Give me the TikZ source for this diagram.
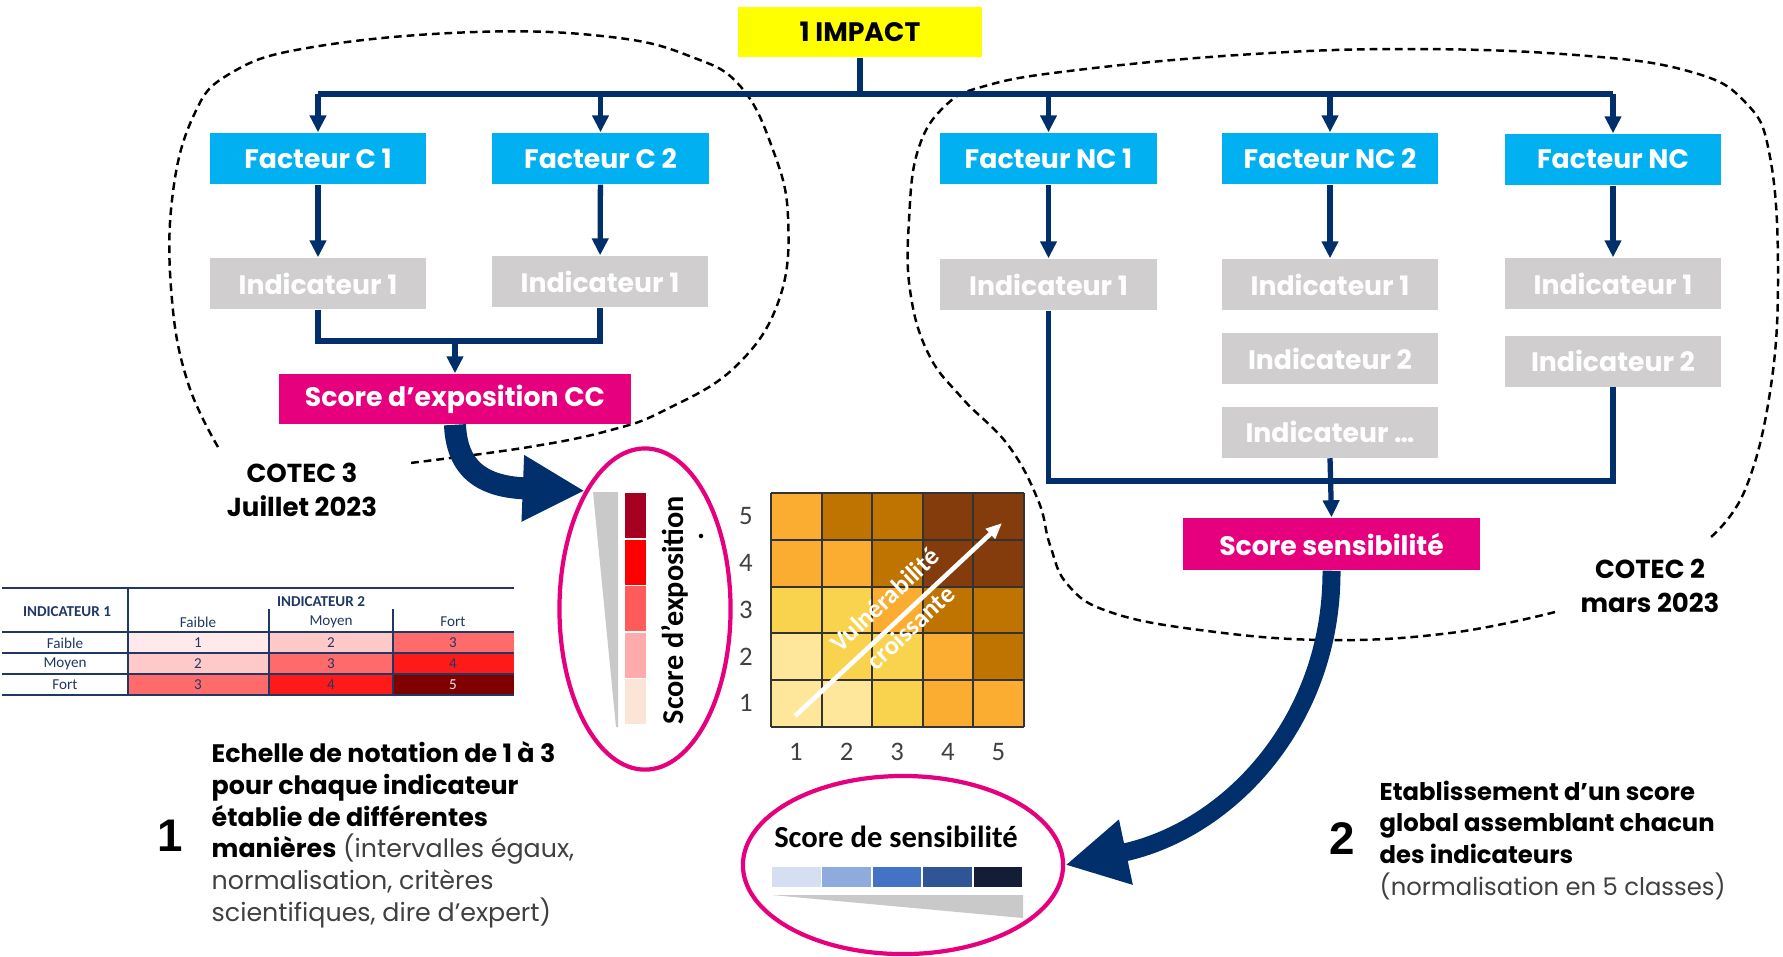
\documentclass[tikz,border=0pt]{standalone}
\usepackage{fontspec}
\setmainfont{Poppins}
\newfontfamily\calib{Carlito}
\newfontfamily\arialf{Liberation Sans}
\usetikzlibrary{arrows.meta,shapes.geometric}
\definecolor{cnavy}{HTML}{002F6C}
\definecolor{ccyan}{HTML}{00B0F0}
\definecolor{cgray}{HTML}{D0CECE}
\definecolor{wgray}{HTML}{C9C9C9}
\definecolor{cmag}{HTML}{E6007E}
\definecolor{cyel}{HTML}{FFFF00}
\definecolor{tnavy}{HTML}{1F3864}
\definecolor{tgray}{HTML}{404040}
\definecolor{mA}{HTML}{FEE79A}
\definecolor{mB}{HTML}{F9D34E}
\definecolor{mC}{HTML}{FBAD31}
\definecolor{mD}{HTML}{BF7300}
\definecolor{mE}{HTML}{843C0C}
\definecolor{rA}{HTML}{A50021}
\definecolor{rB}{HTML}{FF0000}
\definecolor{rC}{HTML}{FF5B5B}
\definecolor{rD}{HTML}{FFABAB}
\definecolor{rE}{HTML}{FBE5D6}
\definecolor{bA}{HTML}{D6DFF2}
\definecolor{bB}{HTML}{8FAADC}
\definecolor{bC}{HTML}{4472C4}
\definecolor{bD}{HTML}{2F5597}
\definecolor{bE}{HTML}{131D35}
\definecolor{pA}{HTML}{FFE9EA}
\definecolor{pB}{HTML}{FFC9C9}
\definecolor{pC}{HTML}{FF6B6B}
\definecolor{pD}{HTML}{FF1A1A}
\definecolor{pE}{HTML}{800000}
\tikzset{
  boxbase/.style={inner sep=0pt, minimum width=2.16cm, minimum height=0.51cm,
    font=\fontsize{7.6}{9}\selectfont\bfseries, text=white},
  facbox/.style={boxbase, fill=ccyan},
  indbox/.style={boxbase, fill=cgray},
  scorebox/.style={boxbase, fill=cmag},
  conn/.style={cnavy, line width=1.5pt},
  carr/.style={conn, -{Triangle[length=0.17cm,width=0.16cm]}},
  bigarr/.style={cnavy, -{Triangle[length=0.62cm,width=0.62cm]}},
  blob/.style={line width=0.7pt, dash pattern=on 2.2pt off 1.4pt},
  gridl/.style={line width=0.6pt, black!80},
  axlab/.style={font=\calib\fontsize{7.6}{9}\selectfont, text=tgray, inner sep=0pt},
  tline/.style={tnavy, line width=0.5pt},
  ttext/.style={font=\calib\fontsize{4.3}{5}\selectfont, text=tnavy, inner sep=0pt},
  tbold/.style={font=\calib\bfseries\fontsize{4.3}{5}\selectfont, text=tnavy, inner sep=0pt},
  cotec/.style={align=center, font=\bfseries\fontsize{7.4}{9.7}\selectfont, inner sep=0pt},
  bignum/.style={font=\arialf\bfseries\fontsize{13}{13}\selectfont, inner sep=0pt},
  bodytext/.style={anchor=north west, inner sep=0pt, align=left, font=\fontsize{6.9}{9}\selectfont},
  vtext/.style={text=white, rotate=43, inner sep=0pt, align=center, font=\calib\bfseries\fontsize{7.4}{10.8}\selectfont}
}
\begin{document}
\begin{tikzpicture}[x=0.01cm,y=-0.01cm]
\useasboundingbox (0,0) rectangle (1783,956);

% dashed groupings
\draw[blob] plot[smooth, tension=0.7] coordinates {(218,447) (188,383) (172,300) (172,200) (193,117) (231,73) (313,47) (475,32) (611,37) (692,57) (741,87) (773,150) (788,217) (779,300) (735,367) (665,410) (611,430) (529,447) (410,463)};
\draw[blob] plot[smooth, tension=0.7] coordinates {(1555,612) (1450,633) (1325,640) (1200,630) (1110,612) (1068,585) (1050,545) (1038,500) (1008,445) (962,398) (928,353) (910,290) (909,220) (918,150) (945,106) (985,86) (1069,71) (1238,55) (1407,49) (1576,55) (1688,71) (1745,102) (1770,157) (1778,275) (1770,392) (1745,490) (1711,537)};

% boxes
\node[boxbase, fill=cyel, text=black, minimum width=2.44cm, minimum height=0.50cm] (impact) at (860,32) {1 IMPACT};
\node[facbox] (fc1) at (318,158.5) {Facteur C 1};
\node[facbox] (fc2) at (600.5,158.5) {Facteur C 2};
\node[facbox] (fn1) at (1048.5,158.5) {Facteur NC 1};
\node[facbox] (fn2) at (1330,158.5) {Facteur NC 2};
\node[facbox] (fn3) at (1613,159.5) {Facteur NC};
\node[indbox] (ic1) at (318,283.5) {Indicateur 1};
\node[indbox] (ic2) at (600,281.5) {Indicateur 1};
\node[indbox] (in1) at (1048.5,284.5) {Indicateur 1};
\node[indbox] (in21) at (1330,284.5) {Indicateur 1};
\node[indbox] (in22) at (1330,358.5) {Indicateur 2};
\node[indbox] (in23) at (1330,432) {Indicateur \dots};
\node[indbox] (in31) at (1613,283.5) {Indicateur 1};
\node[indbox] (in32) at (1613,361) {Indicateur 2};
\node[scorebox, minimum width=3.52cm, minimum height=0.50cm] (sexp) at (455,399) {Score d’exposition CC};
\node[scorebox, minimum width=2.97cm, minimum height=0.52cm] (ssens) at (1331.5,544) {Score sensibilité};

% tree connectors
\coordinate (bus) at (860,94);
\draw[conn] (impact.south) -- (bus);
\draw[conn] (fc1.north |- bus) -- (fn3.north |- bus);
\foreach \f in {fc1,fc2,fn1,fn2,fn3} \draw[carr] (\f.north |- bus) -- (\f.north);
\draw[carr] (fc1) -- (ic1);
\draw[carr] (fc2) -- (ic2);
\draw[carr] (fn1) -- (in1);
\draw[carr] (fn2) -- (in21);
\draw[carr] (fn3) -- (in31);
\coordinate (cj) at (455,341);
\draw[conn] (ic1.south) -- (ic1.south |- cj) -- (ic2.south |- cj) -- (ic2.south);
\draw[carr] (cj) -- (sexp.north);
\coordinate (nj) at (1330,481);
\draw[conn] (in1.south) -- (in1.south |- nj) -- (in32.south |- nj) -- (in32.south);
\draw[carr] (in23.south) -- (ssens.north);

% exposure ellipse
\node[ellipse, draw=cmag, line width=1.2pt, minimum width=1.71cm, minimum height=3.21cm, inner sep=0pt] (ell1) at (645,609) {};
\fill[wgray] (593,492) -- (618,492) -- (618,727) -- (616,727) -- cycle;
\foreach \c [count=\i from 0] in {rA,rB,rC,rD,rE}
  \fill[\c] (625,{493+46.6*\i}) rectangle ++(21,45);
\node[rotate=90, font=\calib\bfseries\fontsize{8.6}{10}\selectfont, inner sep=0pt] (sexlab) at (675,610) {Score d’exposition};
\node[rotate=90, font=\calib\bfseries\fontsize{8.6}{10}\selectfont, inner sep=0pt] (sexdot) at (701,536) {.};

% big arrows
\draw[bigarr, line width=0.22cm] (sexp.south) .. controls (457,475) and (490,487) .. (ell1.117);

% matrix
\foreach \c [count=\i from 0] in {mC,mD,mD,mE,mE} \fill[\c] ({771+50.6*\i},493) rectangle ++(50.6,46.8);
\foreach \c [count=\i from 0] in {mC,mC,mD,mE,mE} \fill[\c] ({771+50.6*\i},539.8) rectangle ++(50.6,46.8);
\foreach \c [count=\i from 0] in {mB,mB,mC,mD,mD} \fill[\c] ({771+50.6*\i},586.6) rectangle ++(50.6,46.8);
\foreach \c [count=\i from 0] in {mA,mB,mB,mC,mD} \fill[\c] ({771+50.6*\i},633.4) rectangle ++(50.6,46.8);
\foreach \c [count=\i from 0] in {mA,mA,mB,mC,mC} \fill[\c] ({771+50.6*\i},680.2) rectangle ++(50.6,46.8);
\foreach \i in {0,...,5} {
  \draw[gridl] ({771+50.6*\i},493) -- ({771+50.6*\i},727);
  \draw[gridl] (771,{493+46.8*\i}) -- (1024,{493+46.8*\i});
}
\foreach \n [count=\i from 0] in {5,4,3,2,1} \node[axlab] (rl\n) at (746,{516+46.8*\i}) {\n};
\foreach \n [count=\i from 0] in {1,2,3,4,5} \node[axlab] (cl\n) at ({796+50.6*\i},752) {\n};
\coordinate (va) at (795,716);
\coordinate (vb) at (1002,523);
\draw[white, line width=1.3pt, -{Triangle[length=0.16cm,width=0.13cm]}] (va) -- (vb);
\node[vtext] (vul) at (897.5,613.5) {Vulnérabilité\\croissante};

% sensitivity ellipse
\node[ellipse, draw=cmag, line width=1.2pt, minimum width=3.2cm, minimum height=1.78cm, inner sep=0pt] (ell2) at (903,865) {};
\node[font=\calib\bfseries\fontsize{8.7}{10}\selectfont, inner sep=0pt] (sslab) at (896,837) {Score de sensibilité};
\foreach \c [count=\i from 0] in {bA,bB,bC,bD,bE}
  \fill[\c] ({772+50.4*\i},867) rectangle ++(48.6,20);
\fill[wgray] (772,895) -- (1023,895) -- (1023,918) -- cycle;

\draw[bigarr, line width=0.18cm] (ssens.south) .. controls (1332,720) and (1230,830) .. (ell2.east);

% table
\fill[pA] (128,632) rectangle (269,653);
\fill[pB] (269,632) rectangle (393,653);
\fill[pC] (393,632) rectangle (514,653);
\fill[pB] (128,653) rectangle (269,674);
\fill[pC] (269,653) rectangle (393,674);
\fill[pD] (393,653) rectangle (514,674);
\fill[pC] (128,674) rectangle (269,695);
\fill[pD] (269,674) rectangle (393,695);
\fill[pE] (393,674) rectangle (514,695);
\foreach \yy in {588,632,653,674,695} \draw[tline] (2,\yy) -- (514,\yy);
\draw[tline] (128,588) -- (128,695);
\draw[tline] (269,609) -- (269,695);
\draw[tline] (393,609) -- (393,695);
\node[tbold] (ti1) at (67,612) {INDICATEUR 1};
\node[tbold] (ti2) at (321,602) {INDICATEUR 2};
\node[ttext] (th1) at (198,622) {Faible};
\node[ttext] (th2) at (331,622) {Moyen};
\node[ttext] (th3) at (453,622) {Fort};
\node[ttext] (tr1) at (65,643) {Faible};
\node[ttext] (tr2) at (65,664) {Moyen};
\node[ttext] (tr3) at (65,685) {Fort};
\node[ttext] (v11) at (198,643) {1};
\node[ttext] (v12) at (331,643) {2};
\node[ttext] (v13) at (453,643) {3};
\node[ttext] (v21) at (198,664) {2};
\node[ttext] (v22) at (331,664) {3};
\node[ttext] (v23) at (453,664) {4};
\node[ttext] (v31) at (198,685) {3};
\node[ttext] (v32) at (331,685) {4};
\node[ttext, text=white!85!gray] (v33) at (453,685) {5};

% COTEC labels
\node[cotec] (cotec3) at (302,490) {COTEC 3\\Juillet 2023};
\node[cotec] (cotec2) at (1650,586) {COTEC 2\\mars 2023};

% explanatory texts
\node[bignum] (n1) at (170,836) {1};
\node[bodytext, font=\fontsize{7.2}{9}\selectfont] (t1) at (211,741) {\bfseries Echelle de notation de 1 à 3\\
  \bfseries pour chaque indicateur\\
  \bfseries établie de différentes\\
  {\bfseries manières} {\color{tgray}(intervalles égaux,}\\
  {\color{tgray}normalisation, critères}\\
  {\color{tgray}scientifiques, dire d’expert)}};
\node[bignum] (n2) at (1342,839) {2};
\node[bodytext] (t2) at (1379,780) {\bfseries Etablissement d’un score\\
  \bfseries global assemblant chacun\\
  \bfseries des indicateurs\\
  {\color{tgray}(normalisation en 5 classes)}};
\end{tikzpicture}
\end{document}
